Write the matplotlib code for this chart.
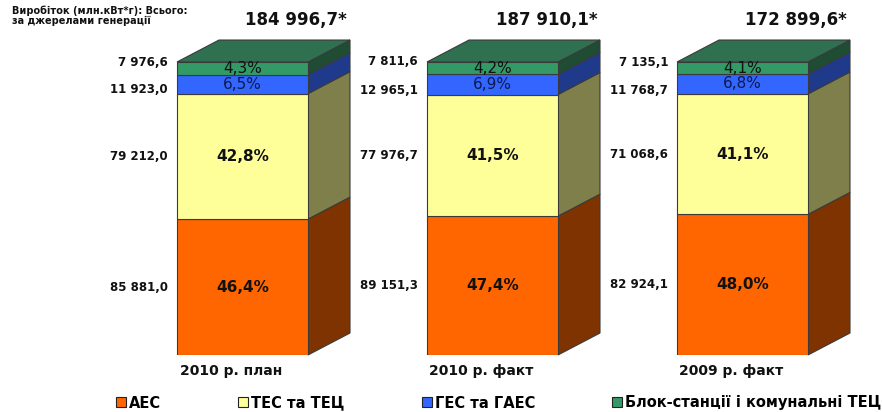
import matplotlib.pyplot as plt
import numpy as np
from matplotlib.patches import Polygon, Patch

plt.rcParams['font.family'] = ['DejaVu Sans']

categories = ['2010 р. план', '2010 р. факт', '2009 р. факт']
totals = [184996.7, 187910.1, 172899.6]

series = ['АЕС', 'ТЕС та ТЕЦ', 'ГЕС та ГАЕС', 'Блок-станції і комунальні ТЕЦ']
values = {
    'АЕС': [85881.0, 89151.3, 82924.1],
    'ТЕС та ТЕЦ': [79212.0, 77976.7, 71068.6],
    'ГЕС та ГАЕС': [11923.0, 12965.1, 11768.7],
    'Блок-станції і комунальні ТЕЦ': [7976.6, 7811.6, 7135.1],
}
shares = {
    'АЕС': [46.4, 47.4, 48.0],
    'ТЕС та ТЕЦ': [42.8, 41.5, 41.1],
    'ГЕС та ГАЕС': [6.5, 6.9, 6.8],
    'Блок-станції і комунальні ТЕЦ': [4.3, 4.2, 4.1],
}

front = ['#ff6600', '#ffff99', '#3366ff', '#339966']
side = ['#7f3300', '#7f7f4c', '#1f3a8a', '#1e4d33']
top_col = '#2e7050'
edge = '#3a3a3a'


def fmt(v):
    return f'{v:,.1f}'.replace(',', ' ').replace('.', ',')


fig = plt.figure(figsize=(8.82, 4.12), dpi=100)
ax = fig.add_axes([67.5 / 882, 57 / 412, 812.5 / 882, 293 / 412])
ax.set_xlim(-0.7, 2.55)
ax.set_ylim(0, 100)
ax.axis('off')

x = np.arange(len(categories))
w = 0.524
dx, dy = 0.168, 7.5

bottom = np.zeros(len(categories))
for k, name in enumerate(series):
    h = np.array(shares[name])
    ax.bar(x, h, w, bottom=bottom, color=front[k], edgecolor=edge,
           linewidth=0.8, zorder=3)
    for i in range(len(x)):
        xr = x[i] + w / 2
        y0, y1 = bottom[i], bottom[i] + h[i]
        ax.add_patch(Polygon([(xr, y0), (xr + dx, y0 + dy), (xr + dx, y1 + dy), (xr, y1)],
                             closed=True, facecolor=side[k], edgecolor=edge,
                             linewidth=0.8, zorder=2, clip_on=False))
        pct = f'{h[i]:.1f}%'.replace('.', ',')
        bold = k < 2
        ax.text(x[i], y0 + h[i] / 2, pct, ha='center', va='center',
                fontsize=11, fontweight='bold' if bold else 'normal',
                color='#111111' if k != 2 else '#0d1a4d', zorder=5)
        # value labels on the left
        if k < 2:
            ly = y0 + h[i] / 2
        elif k == 2:
            ly = y0 + 1.3
        else:
            ly = y1
        ax.text(x[i] - w / 2 - 0.036, ly, fmt(values[name][i]), ha='right',
                va='center', fontsize=8.5, fontweight='bold', color='#111111')
    bottom += h

# top faces and totals
for i in range(len(x)):
    xl, xr = x[i] - w / 2, x[i] + w / 2
    yt = bottom[i]
    ax.add_patch(Polygon([(xl, yt), (xl + dx, yt + dy), (xr + dx, yt + dy), (xr, yt)],
                         closed=True, facecolor=top_col, edgecolor=edge,
                         linewidth=0.8, zorder=2, clip_on=False))
    ax.text(x[i] + 0.215, 114.3, fmt(totals[i]) + '*', ha='center', va='center',
            fontsize=12, fontweight='bold', color='#111111', clip_on=False)
    ax.text(x[i] - 0.045, -5.5, categories[i], ha='center', va='center',
            fontsize=10, fontweight='bold', color='#111111', clip_on=False)

fig.text(12 / 882, 1 - 5 / 412, 'Виробіток (млн.кВт*г): Всього:\nза джерелами генерації',
         ha='left', va='top', fontsize=7, fontweight='bold', color='#111111',
         linespacing=1.1)

handles = [Patch(facecolor=front[k], edgecolor='#222222', linewidth=0.8) for k in range(4)]
fig.legend(handles, series, loc='center left', bbox_to_anchor=(116 / 882, 9 / 412),
           ncol=4, frameon=False, borderpad=0, borderaxespad=0,
           handlelength=0.68, handleheight=0.68, handletextpad=0.2,
           columnspacing=5.3, prop={'size': 10.5, 'weight': 'bold'})

fig.savefig('out.png', dpi=100)
